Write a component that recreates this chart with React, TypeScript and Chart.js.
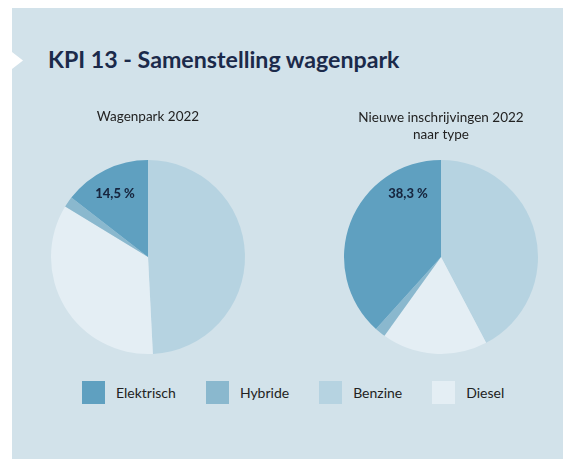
import React, { useEffect, useRef } from "react";
import { Chart, registerables } from "chart.js";

Chart.register(...registerables);

// ---- Data ----
const categories = ["Elektrisch", "Hybride", "Benzine", "Diesel"];
const colors = ["#5fa0c0", "#8ab8ce", "#b6d3e1", "#e4eef4"];
const wagenpark2022 = [14.5, 1.8, 49.2, 34.5];
const inschrijvingen2022 = [38.3, 1.8, 42.3, 17.6];
// clockwise drawing order starting at 12 o'clock
const drawOrder = [2, 3, 1, 0];
const labelledCategory = 0; // Elektrisch

const TITLE = "KPI 13 - Samenstelling wagenpark";
const leftTitle = ["Wagenpark 2022"];
const rightTitle = ["Nieuwe inschrijvingen 2022", "naar type"];

const FONT = "Lato, 'Open Sans', sans-serif";

const pctLabelPlugin = {
  id: "pctLabel",
  afterDatasetsDraw(chart: any) {
    const meta = chart.getDatasetMeta(0);
    const idx = drawOrder.indexOf(labelledCategory);
    const arc = meta.data[idx];
    if (!arc) return;
    const value = chart.data.datasets[0].data[idx];
    const { x, y, outerRadius } = arc.getProps(["x", "y", "outerRadius"], true);
    const ctx = chart.ctx;
    ctx.save();
    ctx.font = `900 13px ${FONT}`;
    ctx.fillStyle = "#17263f";
    ctx.textAlign = "center";
    ctx.textBaseline = "middle";
    ctx.fillText(value.toFixed(1).replace(".", ",") + " %", x - outerRadius * 0.34, y - outerRadius * 0.655);
    ctx.restore();
  },
};

function PieChart({ values, title, padTop, padBottom }: { values: number[]; title: string[]; padTop: number; padBottom: number }) {
  const ref = useRef<HTMLCanvasElement>(null);
  useEffect(() => {
    if (!ref.current) return;
    const chart = new Chart(ref.current, {
      type: "pie",
      data: {
        labels: drawOrder.map((i) => categories[i]),
        datasets: [
          {
            data: drawOrder.map((i) => values[i]),
            backgroundColor: drawOrder.map((i) => colors[i]),
            borderWidth: 0,
          },
        ],
      },
      options: {
        animation: false,
        responsive: false,
        devicePixelRatio: 1,
        layout: { padding: { left: 13, right: 13, top: 0, bottom: 16 } },
        plugins: {
          legend: { display: false },
          tooltip: { enabled: false },
          title: {
            display: true,
            text: title,
            color: "#222222",
            font: { family: FONT, size: 13.5, weight: "normal", lineHeight: 17 / 13.5 },
            padding: { top: padTop, bottom: padBottom },
          },
        },
      },
      plugins: [pctLabelPlugin],
    });
    return () => chart.destroy();
  }, []);
  return <canvas ref={ref} width={220} height={270} />;
}

export default function App() {
  return (
    <div style={{ position: "absolute", left: 0, top: 0, width: 563, height: 459, background: "#ffffff", overflow: "hidden" }}>
      <div style={{ position: "absolute", left: 12, top: 8, width: 551, height: 451, background: "#d2e2ea" }} />
      <svg style={{ position: "absolute", left: 12, top: 52 }} width={12} height={17}>
        <polygon points="0,0 11,8.5 0,17" fill="#ffffff" />
      </svg>
      <div
        style={{
          position: "absolute",
          left: 48,
          top: 46,
          fontFamily: FONT,
          fontWeight: 700,
          fontSize: 23.2,
          lineHeight: "27px",
          color: "#1b2a4a",
          whiteSpace: "nowrap",
        }}
      >
        {TITLE}
      </div>
      <div style={{ position: "absolute", left: 38, top: 100 }}>
        <PieChart values={wagenpark2022} title={leftTitle} padTop={8} padBottom={35} />
      </div>
      <div style={{ position: "absolute", left: 331, top: 100 }}>
        <PieChart values={inschrijvingen2022} title={rightTitle} padTop={9} padBottom={17} />
      </div>
      <div
        style={{
          position: "absolute",
          left: 82,
          top: 381,
          display: "flex",
          alignItems: "center",
          fontFamily: FONT,
          fontSize: 14,
          color: "#222222",
        }}
      >
        {categories.map((c, i) => (
          <div key={c} style={{ display: "flex", alignItems: "center", marginRight: 30 }}>
            <div style={{ width: 23, height: 23, background: colors[i], marginRight: 11 }} />
            <span>{c}</span>
          </div>
        ))}
      </div>
    </div>
  );
}
